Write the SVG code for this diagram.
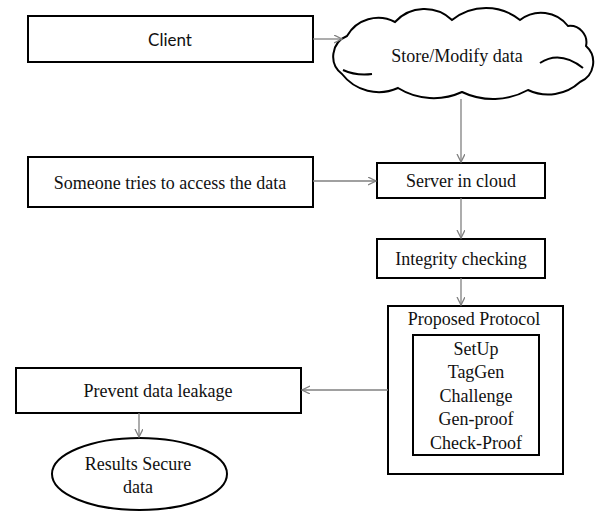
<svg xmlns="http://www.w3.org/2000/svg" width="600" height="511" viewBox="0 0 600 511">
<defs>
<style>
.box{fill:#fff;stroke:#000;stroke-width:2}
.t{font-family:"Liberation Serif","Times New Roman",serif;font-size:18px;fill:#111;text-anchor:middle}
.s{font-family:Lato,"Liberation Sans",sans-serif;font-size:17px;fill:#111;text-anchor:middle}
.c{fill:none;stroke:#808080;stroke-width:1.3;marker-end:url(#arr)}
</style>
<marker id="arr" markerUnits="userSpaceOnUse" markerWidth="10" markerHeight="10" refX="8" refY="4" orient="auto">
<path d="M0,0 L8,4 L0,8" fill="none" stroke="#808080" stroke-width="1.3"/>
</marker>
</defs>
<rect width="600" height="511" fill="#fff"/>
<g id="client">
<rect class="box" x="28" y="16" width="285" height="46"/>
<text class="s" x="170" y="46">Client</text>
</g>
<g id="store">
<path d="M342,74 A22,22 0 0 1 347,36 A36,36 0 0 1 395,22 A40,40 0 0 1 452,20 A54,54 0 0 1 520,20 A34,34 0 0 1 568,26 A16.5,16.5 0 0 1 586,46 A21.6,21.6 0 0 1 580,82 A47,47 0 0 1 528,90 A72,72 0 0 1 462,92 A68,68 0 0 1 398,88 A46.5,46.5 0 0 1 342,74 Z" fill="#fff" stroke="#000" stroke-width="2"/>
<path d="M540,63 Q560,50 583,68 M343,70 Q356,76 372,74" fill="none" stroke="#000" stroke-width="2"/>
<text class="t" x="457" y="62">Store/Modify data</text>
</g>
<g id="someone">
<rect class="box" x="28" y="157" width="285" height="50"/>
<text class="t" x="170" y="189">Someone tries to access the data</text>
</g>
<g id="server">
<rect class="box" x="377" y="163" width="168" height="35"/>
<text class="t" x="461" y="187">Server in cloud</text>
</g>
<g id="integrity">
<rect class="box" x="377" y="239" width="168" height="39"/>
<text class="t" x="461" y="265">Integrity checking</text>
</g>
<g id="protocol">
<rect class="box" x="388" y="306" width="175" height="168"/>
<text class="t" x="474" y="325">Proposed Protocol</text>
<rect class="box" x="413" y="335" width="126" height="120"/>
<text class="t" x="476" y="355">SetUp</text>
<text class="t" x="476" y="378">TagGen</text>
<text class="t" x="476" y="402">Challenge</text>
<text class="t" x="476" y="425">Gen-proof</text>
<text class="t" x="476" y="449">Check-Proof</text>
</g>
<g id="prevent">
<rect class="box" x="16" y="368" width="285" height="45"/>
<text class="t" x="158" y="397">Prevent data leakage</text>
</g>
<g id="results">
<ellipse cx="139.5" cy="474" rx="87.5" ry="36" fill="#fff" stroke="#000" stroke-width="2"/>
<text class="t" x="138" y="470">Results Secure</text>
<text class="t" x="138" y="493">data</text>
</g>
<g id="connectors">
<path class="c" d="M313,39 L342,39"/>
<path class="c" d="M461,99 L461,162"/>
<path class="c" d="M313,181 L376,181"/>
<path class="c" d="M461,198 L461,238"/>
<path class="c" d="M461,278 L461,305"/>
<path class="c" d="M388,390 L302,390"/>
<path class="c" d="M139,413 L139,437"/>
</g>
</svg>
